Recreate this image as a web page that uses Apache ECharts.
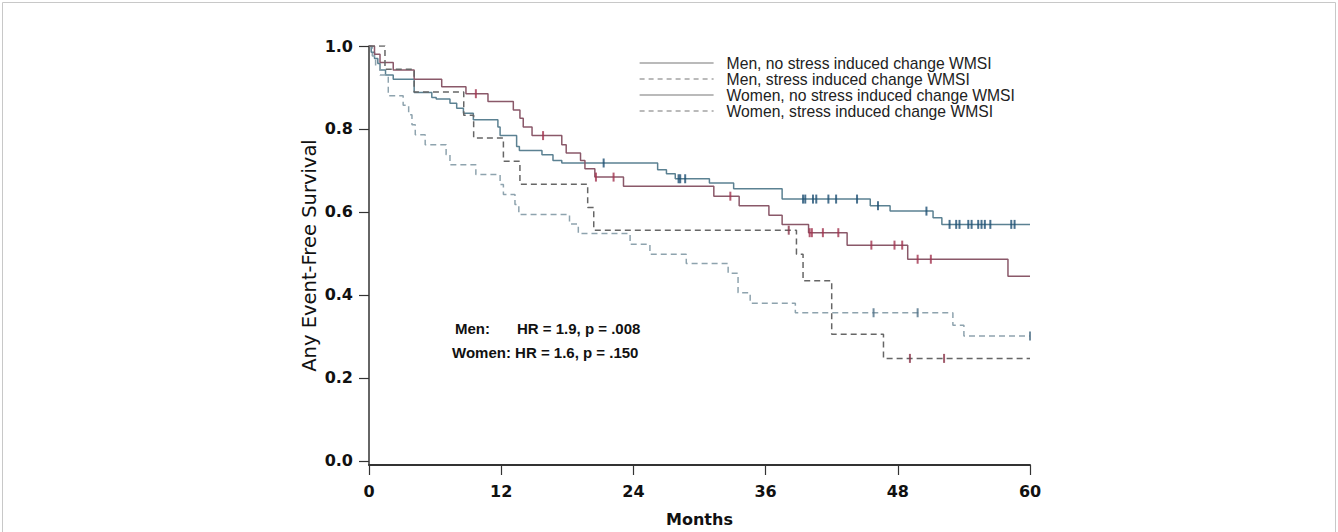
<!DOCTYPE html>
<html>
<head>
<meta charset="utf-8">
<script src="https://cdn.jsdelivr.net/npm/echarts@6/dist/echarts.min.js"></script>
<style>
  html, body { margin: 0; padding: 0; background: #fff; }
  #chart { width: 1338px; height: 532px; }
</style>
</head>
<body>
<div id="chart"></div>
<script>
// Kaplan-Meier steps: time (months) where the survival drops, and the new level
const menNoTime = [0, 0.2, 0.5, 0.8, 1.0, 1.5, 2.2, 4.1, 5.7, 6.1, 7.35, 7.96, 8.57, 9.47, 11.7, 11.9, 13.4, 13.65, 15.7, 16.7, 17.5, 26.2, 27.0, 27.8, 30.9, 33.1, 37.5, 45.5, 47.3, 51.2, 52.0]
const menNoSurv = [1, 0.985, 0.970, 0.958, 0.942, 0.930, 0.920, 0.888, 0.876, 0.872, 0.862, 0.850, 0.838, 0.822, 0.805, 0.784, 0.758, 0.748, 0.738, 0.724, 0.718, 0.702, 0.692, 0.680, 0.670, 0.656, 0.631, 0.615, 0.602, 0.586, 0.570]
const menNoCens = [21.3, 28.1, 28.25, 28.7, 39.4, 39.6, 40.3, 40.6, 41.7, 42.4, 44.3, 46.2, 50.6, 52.7, 53.3, 53.6, 54.4, 54.7, 55.3, 55.6, 55.9, 56.4, 58.3, 58.6]

const menStTime = [0, 0.3, 0.6, 1.0, 1.75, 3.1, 3.6, 3.9, 4.2, 5.1, 7.0, 7.35, 9.7, 11.9, 12.2, 13.25, 13.6, 18.2, 19.0, 23.7, 25.5, 28.8, 32.6, 33.5, 34.6, 38.7, 53.0, 54.0]
const menStSurv = [1, 0.976, 0.952, 0.930, 0.880, 0.857, 0.834, 0.810, 0.786, 0.762, 0.738, 0.714, 0.690, 0.666, 0.642, 0.618, 0.594, 0.571, 0.548, 0.522, 0.498, 0.476, 0.452, 0.405, 0.380, 0.357, 0.327, 0.301]
const menStCens = [45.8, 49.8, 60]

const womNoTime = [0, 0.5, 1.0, 2.2, 4.1, 6.6, 8.8, 10.8, 13.1, 13.7, 14.0, 14.8, 17.5, 17.9, 19.2, 19.6, 20.5, 23.1, 31.3, 33.6, 36.3, 37.5, 39.9, 43.4, 48.9, 58.0]
const womNoSurv = [1, 0.980, 0.960, 0.942, 0.920, 0.902, 0.885, 0.866, 0.846, 0.826, 0.805, 0.784, 0.762, 0.742, 0.724, 0.704, 0.684, 0.662, 0.638, 0.615, 0.592, 0.570, 0.550, 0.520, 0.486, 0.445]
const womNoCens = [9.7, 15.8, 20.6, 22.2, 32.8, 40.0, 40.2, 41.2, 42.6, 45.6, 47.7, 48.4, 49.8, 51.0]

const womStTime = [0, 1.45, 4.1, 8.6, 9.5, 12.2, 13.7, 19.85, 20.4, 38.8, 39.4, 42.0, 46.7]
const womStSurv = [1, 0.944, 0.889, 0.833, 0.778, 0.722, 0.667, 0.611, 0.556, 0.498, 0.434, 0.305, 0.247]
const womStCens = [38.1, 49.1, 52.2]

const seriesNames = [
  'Men, no stress induced change WMSI',
  'Men, stress induced change WMSI',
  'Women, no stress induced change WMSI',
  'Women, stress induced change WMSI',
]
const xTicks = [0, 12, 24, 36, 48, 60]
const yTicks = [0, 0.2, 0.4, 0.6, 0.8, 1.0]

const tickFont = 'DejaVu Sans'
const maxMonth = 60

function stepData(times, surv) {
  const pts = times.map((t, i) => [t, surv[i]])
  pts.push([maxMonth, surv[surv.length - 1]])
  return pts
}

function censData(cens, times, surv) {
  return cens.map((c) => {
    let idx = 0
    for (let i = 0; i < times.length; i++) if (times[i] <= c) idx = i
    return [c, surv[idx]]
  })
}

function kmLine(name, times, surv, color, dashed) {
  return {
    name,
    type: 'line',
    step: 'end',
    symbol: 'none',
    data: stepData(times, surv),
    lineStyle: { color, width: 1.5, type: dashed ? [6, 4] : 'solid' },
    itemStyle: { color },
    z: 3,
  }
}

function censMarks(times, surv, cens, color) {
  return {
    type: 'scatter',
    symbol: 'rect',
    symbolSize: [2, 9],
    data: censData(cens, times, surv),
    itemStyle: { color },
    z: 4,
  }
}

const chart = echarts.init(document.getElementById('chart'), null, { renderer: 'svg' })

chart.setOption({
  animation: false,
  backgroundColor: '#fff',
  grid: { left: 369, right: 308, top: 46, bottom: 66 },
  legend: {
    orient: 'vertical',
    left: 639,
    top: 55,
    padding: 0,
    itemWidth: 74,
    itemHeight: 14,
    itemGap: 0,
    selectedMode: false,
    lineStyle: { color: '#777', width: 1.2 },
    itemStyle: { color: '#777', opacity: 0, borderWidth: 0 },
    textStyle: { fontFamily: 'Liberation Sans', fontSize: 15.7, color: '#222', padding: [0, 0, 0, 8] },
    data: seriesNames.map((n, i) => ({
      name: n,
      lineStyle: { color: '#777', width: 1.2, type: i % 2 ? [5, 4] : 'solid' },
      itemStyle: { color: '#777', opacity: 0, borderWidth: 0 },
    })),
  },
  xAxis: {
    type: 'value',
    min: 0,
    max: maxMonth,
    interval: 12,
    name: 'Months',
    nameLocation: 'middle',
    nameGap: 46,
    nameTextStyle: { fontFamily: tickFont, fontWeight: 'bold', fontSize: 16, color: '#111' },
    axisLine: { onZero: false, lineStyle: { color: '#333', width: 2 } },
    axisTick: { inside: false, length: 10, lineStyle: { color: '#333', width: 1.2 } },
    axisLabel: { margin: 18, fontFamily: tickFont, fontWeight: 'bold', fontSize: 16, color: '#111',
      customValues: xTicks },
    splitLine: { show: false },
  },
  yAxis: {
    type: 'value',
    min: -0.01,
    max: 1,
    name: 'Any Event-Free Survival',
    nameLocation: 'middle',
    nameGap: 50,
    nameTextStyle: { fontFamily: 'DejaVu Sans', fontSize: 19.5, color: '#111' },
    axisLine: { show: true, lineStyle: { color: '#333', width: 1.5 } },
    axisTick: { show: true, length: 10, lineStyle: { color: '#333', width: 1.2 }, customValues: yTicks },
    axisLabel: { margin: 16, fontFamily: tickFont, fontWeight: 'bold', fontSize: 16, color: '#111',
      customValues: yTicks, formatter: (v) => v.toFixed(1) },
    splitLine: { show: false },
  },
  graphic: [
    { type: 'rect', silent: true, shape: { x: 2.5, y: 2.5, width: 1333, height: 560 },
      style: { fill: 'none', stroke: '#c8c8c8', lineWidth: 1 } },
    { type: 'text', left: 455, top: 321,
      style: { text: 'Men:', font: 'bold 15px "Liberation Sans"', fill: '#111' } },
    { type: 'text', left: 517, top: 321,
      style: { text: 'HR = 1.9, p = .008', font: 'bold 15px "Liberation Sans"', fill: '#111' } },
    { type: 'text', left: 452, top: 345,
      style: { text: 'Women: HR = 1.6, p = .150', font: 'bold 15px "Liberation Sans"', fill: '#111' } },
  ],
  series: [
    kmLine(seriesNames[0], menNoTime, menNoSurv, '#5b8192', false),
    kmLine(seriesNames[1], menStTime, menStSurv, '#8ea3ae', true),
    kmLine(seriesNames[2], womNoTime, womNoSurv, '#8a5869', false),
    kmLine(seriesNames[3], womStTime, womStSurv, '#666666', true),
    censMarks(menNoTime, menNoSurv, menNoCens, '#1d4f73'),
    censMarks(menStTime, menStSurv, menStCens, '#4f7187'),
    censMarks(womNoTime, womNoSurv, womNoCens, '#a3334f'),
    censMarks(womStTime, womStSurv, womStCens, '#8a3348'),
  ],
})
</script>
</body>
</html>
